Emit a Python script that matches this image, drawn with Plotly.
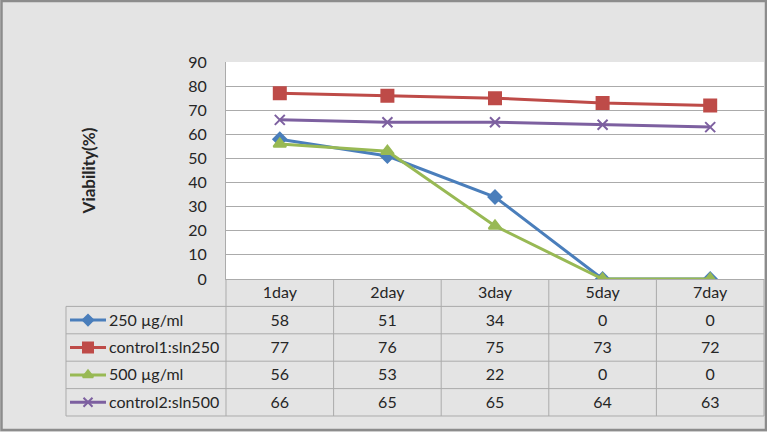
import plotly.graph_objects as go

# ---------------- data ----------------
categories = ["1day", "2day", "3day", "5day", "7day"]
series_names = ["250 µg/ml", "control1:sln250", "500 µg/ml", "control2:sln500"]
s250 = [58, 51, 34, 0, 0]
control1 = [77, 76, 75, 73, 72]
s500 = [56, 53, 22, 0, 0]
control2 = [66, 65, 65, 64, 63]
y_ticks = [0, 10, 20, 30, 40, 50, 60, 70, 80, 90]
y_title = "Viability(%)"

series_values = [s250, control1, s500, control2]
colors = ["#4A7EBB", "#BE4B48", "#98B954", "#7D60A0"]
symbols = ["diamond", "square", "triangle-up", "x-thin-open"]
msizes = [10, 12, 11, 10]
key_msizes = [8, 10, 9, 9]

# ---------------- layout geometry (pixels) ----------------
W, H = 767, 432
ML, MR, MT, MB = 60, 0, 62, 8
PW, PH = W - ML - MR, H - MT - MB
plot_l, plot_r, plot_t, plot_b = 226, 764, 62, 279
table_l, table_b = 66, 416
n = len(categories)
unit = (plot_r - plot_l) / n
row_h = (table_b - plot_b) / (len(series_names) + 1)


def fx(px):
    return (px - ML) / PW


def fy(py):
    return (H - MB - py) / PH


def x2(px):
    return (px - plot_l) / unit - 0.5


def v2(py):
    return (py - plot_b) / row_h


FONT = "Lato, Carlito, Calibri, sans-serif"
TXT = "#262626"
GRID = "#ABABAB"
TS = 16
tdy = 1.5 / row_h  # small downward nudge of table text

fig = go.Figure()

# main lines
for name, vals, c, sym, ms in zip(series_names, series_values, colors, symbols, msizes):
    fig.add_trace(go.Scatter(
        x=list(range(n)), y=vals, mode="lines+markers", name=name,
        line=dict(color=c, width=3),
        marker=dict(symbol=sym, size=ms, color=c, line=dict(color=c, width=2)),
        showlegend=False, xaxis="x", yaxis="y",
    ))

# table header text
fig.add_trace(go.Scatter(
    x=list(range(n)), y=[0.5 + tdy] * n, mode="text", text=categories,
    textfont=dict(family=FONT, size=TS, color=TXT),
    xaxis="x2", yaxis="y2", showlegend=False, hoverinfo="skip",
))

# table rows: legend keys, names, values
key_x0, key_x1, lab_x = x2(70), x2(106), x2(109)
for r, (name, vals, c, sym, ms) in enumerate(zip(series_names, series_values, colors, symbols, key_msizes)):
    yc = r + 1.5
    fig.add_trace(go.Scatter(
        x=[key_x0, key_x1], y=[yc, yc], mode="lines",
        line=dict(color=c, width=3), xaxis="x2", yaxis="y2",
        showlegend=False, hoverinfo="skip",
    ))
    fig.add_trace(go.Scatter(
        x=[(key_x0 + key_x1) / 2], y=[yc], mode="markers",
        marker=dict(symbol=sym, size=ms, color=c, line=dict(color=c, width=2)),
        xaxis="x2", yaxis="y2", showlegend=False, hoverinfo="skip",
    ))
    fig.add_trace(go.Scatter(
        x=[lab_x], y=[yc + tdy], mode="text", text=[name], textposition="middle right",
        textfont=dict(family=FONT, size=TS, color=TXT),
        xaxis="x2", yaxis="y2", showlegend=False, hoverinfo="skip",
    ))
    fig.add_trace(go.Scatter(
        x=list(range(n)), y=[yc + tdy] * n, mode="text", text=[str(v) for v in vals],
        textfont=dict(family=FONT, size=TS, color=TXT),
        xaxis="x2", yaxis="y2", showlegend=False, hoverinfo="skip",
    ))

shapes = []
# white plot area
shapes.append(dict(type="rect", xref="x domain", yref="y domain", x0=0, x1=1, y0=0, y1=1,
                   fillcolor="white", line=dict(width=0), layer="below"))
# table grid
tl = x2(table_l)
nrows = len(series_names) + 1
for r in range(1, nrows + 1):
    shapes.append(dict(type="line", xref="x2", yref="y2", x0=tl, x1=n - 0.5, y0=r, y1=r,
                       line=dict(color=GRID, width=1)))
for c in range(n + 1):
    shapes.append(dict(type="line", xref="x2", yref="y2", x0=c - 0.5, x1=c - 0.5, y0=0, y1=nrows,
                       line=dict(color=GRID, width=1)))
shapes.append(dict(type="line", xref="x2", yref="y2", x0=tl, x1=tl, y0=1, y1=nrows,
                   line=dict(color=GRID, width=1)))
# outer frame
shapes.append(dict(type="rect", xref="paper", yref="paper",
                   x0=fx(1.5), x1=fx(766), y0=fy(430), y1=fy(1),
                   line=dict(color="#8C8C8C", width=2.5), fillcolor="rgba(0,0,0,0)"))

fig.update_layout(
    width=W, height=H,
    margin=dict(l=ML, r=MR, t=MT, b=MB, pad=0),
    paper_bgcolor="#E4E4E4", plot_bgcolor="#E4E4E4",
    font=dict(family=FONT, size=TS, color=TXT),
    shapes=shapes,
    xaxis=dict(domain=[fx(plot_l), fx(plot_r)], range=[-0.5, n - 0.5],
               showticklabels=False, showgrid=False, zeroline=False,
               showline=True, linecolor=GRID, linewidth=1, mirror=False, ticks=""),
    yaxis=dict(domain=[fy(plot_b), 1], range=[0, 90], tickvals=y_ticks,
               showgrid=True, gridcolor=GRID, gridwidth=1, zeroline=False,
               showline=True, linecolor=GRID, linewidth=1, ticks="",
               ticklabelstandoff=15, tickfont=dict(size=16),
               title=dict(text="<b>" + y_title + "</b>", font=dict(size=17), standoff=88)),
    xaxis2=dict(domain=[0, 1], range=[x2(ML), x2(W - MR)], visible=False, anchor="y2"),
    yaxis2=dict(domain=[0, fy(plot_b)], range=[v2(H - MB), 0], visible=False, anchor="x2"),
)

fig.write_html("out.html", config={"displayModeBar": False},
               post_script="document.body.style.margin='0';document.body.style.padding='0';"
                           "document.body.style.overflow='hidden';")
